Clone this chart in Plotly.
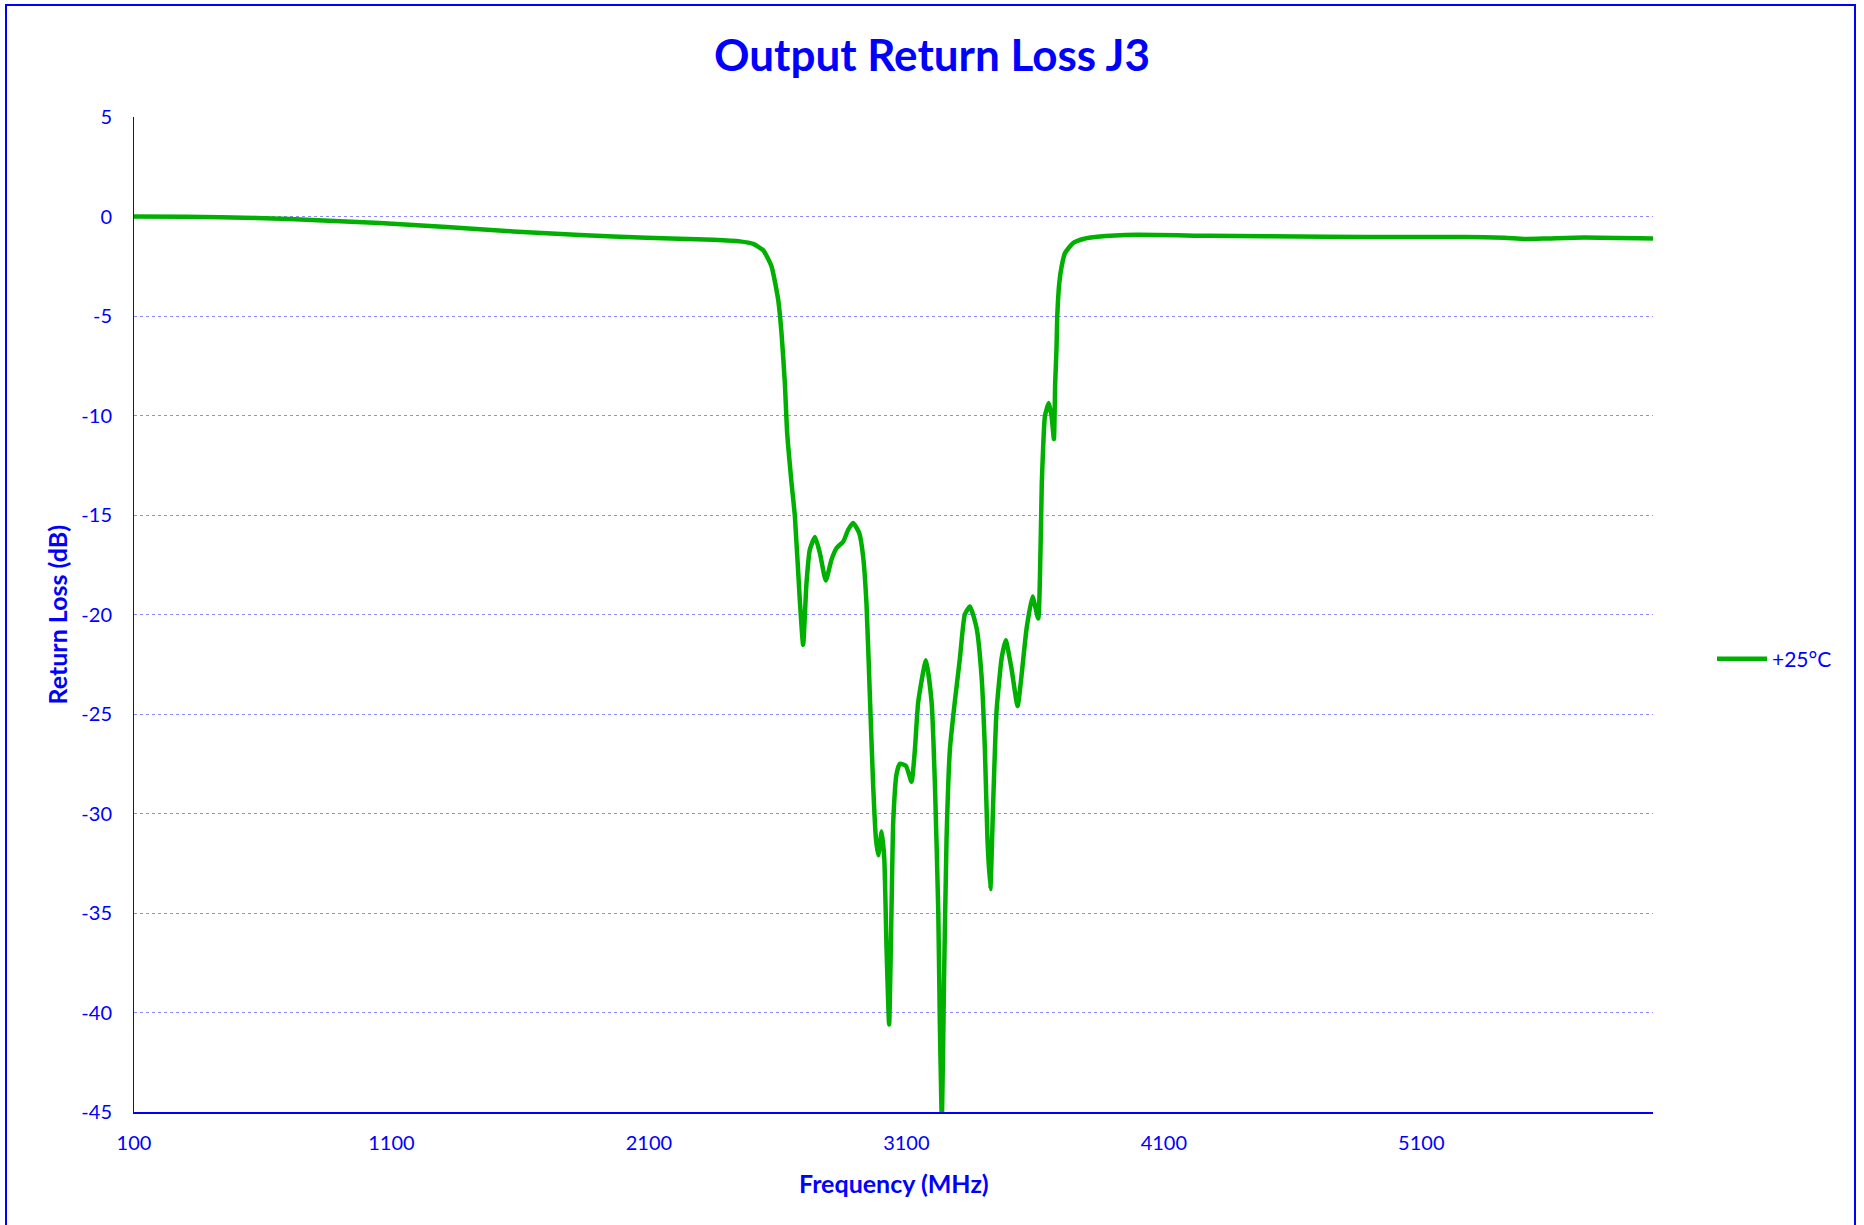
import plotly.graph_objects as go

# ---- data ----
freq_mhz = [
    100, 300, 575, 835, 1055, 1314, 1573, 1832, 2091, 2350, 2453, 2505, 2544, 2576,
    2602, 2615, 2628, 2637, 2654, 2667, 2686, 2699, 2712, 2725, 2745, 2764, 2787,
    2809, 2829, 2855, 2874, 2893, 2917, 2932, 2945, 2958, 2971, 2982, 2991, 3004,
    3014, 3023, 3033, 3042, 3049, 3062, 3075, 3098, 3120, 3133, 3146, 3176, 3198,
    3211, 3224, 3230, 3238, 3246, 3256, 3269, 3288, 3308, 3327, 3347, 3373, 3392,
    3405, 3415, 3426, 3437, 3450, 3470, 3486, 3508, 3532, 3547, 3567, 3590, 3612,
    3621, 3626, 3631, 3638, 3653, 3664, 3673, 3678, 3683, 3686, 3694, 3703, 3716,
    3748, 3787, 3842, 3995, 4272, 4732, 5039, 5270, 5423, 5500, 5592, 5730, 6000,
]
return_loss_db = [
    0.0, -0.01, -0.07, -0.2, -0.33, -0.53, -0.75, -0.93, -1.07, -1.17, -1.25, -1.38, -1.7, -2.5,
    -4.18, -5.86, -8.37, -10.88, -13.4, -15.07, -19.26, -21.52, -18.42, -16.74, -16.11, -16.91, -18.29,
    -17.25, -16.66, -16.33, -15.74, -15.40, -15.91, -17.08, -19.45, -24.0, -28.6, -31.3, -32.1, -30.9,
    -32.2, -36.8, -40.6, -35.0, -30.4, -28.0, -27.5, -27.6, -28.4, -26.8, -24.4, -22.3, -24.4,
    -28.6, -35.0, -40.5, -45.5, -38.6, -31.3, -26.8, -24.4, -22.2, -20.0, -19.6, -20.7, -23.1,
    -26.8, -31.3, -33.8, -29.5, -24.9, -22.2, -21.3, -22.7, -24.6, -23.1, -20.7, -19.1, -20.2,
    -16.74, -13.4, -11.7, -10.04, -9.37, -10.04, -11.18, -8.37, -6.69, -5.02, -3.34, -2.51, -1.84,
    -1.33, -1.13, -1.02, -0.92, -0.97, -1.02, -1.03, -1.03, -1.07, -1.13, -1.10, -1.05, -1.10,
]
series_name = "+25°C"
x_tick_vals = [100, 1100, 2100, 3100, 4100, 5100]
x_tick_text = ["100", "1100", "2100", "3100", "4100", "5100"]
y_tick_vals = [5, 0, -5, -10, -15, -20, -25, -30, -35, -40, -45]
y_tick_text = ["5", "0", "-5", "-10", "-15", "-20", "-25", "-30", "-35", "-40", "-45"]

BLUE = "#0000FF"
GREEN = "#00B000"
GRID = "#8C8CFF"
FONT = "Lato"

W, H = 1864, 1225
L, R, T, B = 134, 211, 117, 113
pw, ph = W - L - R, H - T - B


def px_to_paper_x(px):
    return (px - L) / pw


def py_to_paper_y(py):
    return (H - B - py) / ph


fig = go.Figure()
fig.add_trace(go.Scatter(
    x=freq_mhz, y=return_loss_db, mode="lines", name=series_name,
    line=dict(color=GREEN, width=4.5, shape="spline", smoothing=0.5),
))

fig.update_layout(
    width=W, height=H,
    margin=dict(l=L, r=R, t=T, b=B, autoexpand=False),
    paper_bgcolor="white", plot_bgcolor="white",
    font=dict(family=FONT, color=BLUE, size=20),
    title=dict(text="<b>Output Return Loss J3</b>", x=0.5, xref="container", xanchor="center",
               y=1 - 56 / H, yref="container", yanchor="middle",
               font=dict(family=FONT, size=44, color=BLUE)),
    showlegend=True,
    legend=dict(x=px_to_paper_x(1712), xanchor="left", y=py_to_paper_y(659), yanchor="middle",
                itemwidth=50,
                bgcolor="rgba(0,0,0,0)", borderwidth=0, font=dict(size=21, color=BLUE, family=FONT)),
    xaxis=dict(range=[100, 6000], tickmode="array", tickvals=x_tick_vals, ticktext=x_tick_text,
               showgrid=False, zeroline=False, showline=True, linecolor=BLUE, linewidth=2,
               ticks="", ticklabelstandoff=12, tickfont=dict(size=20, color=BLUE, family=FONT)),
    yaxis=dict(range=[-45, 5], tickmode="array", tickvals=y_tick_vals, ticktext=y_tick_text,
               showgrid=True, gridcolor=GRID, griddash="dot", gridwidth=1,
               zeroline=False, showline=True, linecolor=BLUE, linewidth=1,
               ticks="", ticklabelstandoff=17, tickfont=dict(size=20, color=BLUE, family=FONT)),
    annotations=[
        dict(text="<b>Frequency (MHz)</b>", xref="paper", yref="paper", x=0.5,
             y=py_to_paper_y(1183), xanchor="center", yanchor="middle", showarrow=False,
             font=dict(size=25, color=BLUE, family=FONT)),
        dict(text="<b>Return Loss (dB)</b>", xref="paper", yref="paper", x=px_to_paper_x(56),
             y=0.5, xanchor="center", yanchor="middle", showarrow=False, textangle=-90,
             font=dict(size=25, color=BLUE, family=FONT)),
    ],
    shapes=[
        dict(type="rect", xref="paper", yref="paper",
             x0=px_to_paper_x(6), x1=px_to_paper_x(1855),
             y0=py_to_paper_y(1240), y1=py_to_paper_y(5),
             line=dict(color=BLUE, width=2), fillcolor="rgba(0,0,0,0)", layer="above"),
    ],
)

fig.write_html("out.html", config={"displayModeBar": False},
               post_script="document.body.style.margin='0';")
